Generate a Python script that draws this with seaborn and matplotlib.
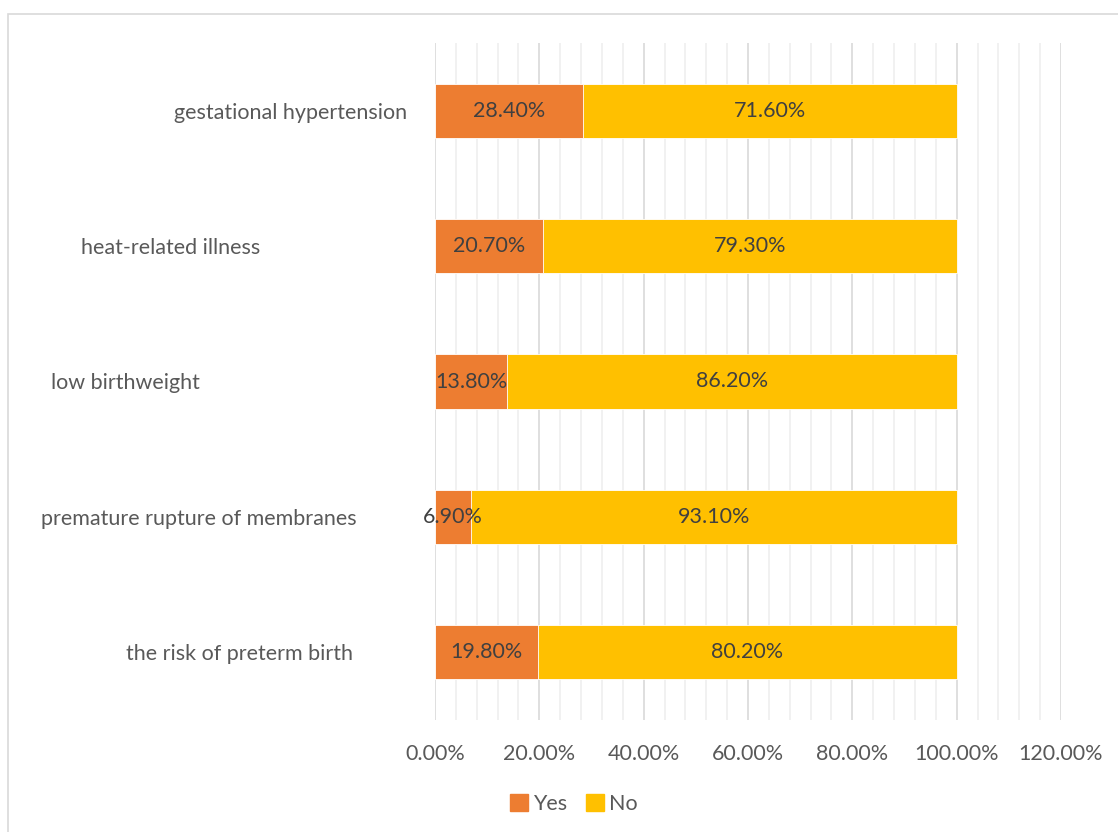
import matplotlib
matplotlib.use("Agg")
import matplotlib.pyplot as plt
import matplotlib.patches as mpatches
from matplotlib.ticker import MultipleLocator, FuncFormatter
import seaborn as sns
import pandas as pd

categories = ["gestational hypertension", "heat-related illness", "low birthweight",
              "premature rupture of membranes", "the risk of preterm birth"]
yes_vals = [28.4, 20.7, 13.8, 6.9, 19.8]
no_vals = [71.6, 79.3, 86.2, 93.1, 80.2]
series_names = ["Yes", "No"]

YES_C = "#ED7D31"
NO_C = "#FFC000"
TXT = "#595959"
LBL = "#404040"
FS = 15.5

sns.set_theme(style="white")
plt.rcParams["font.family"] = ["Lato", "DejaVu Sans"]

df = pd.DataFrame({"category": categories, "Yes": yes_vals, "No": no_vals})
df["total"] = df["Yes"] + df["No"]

fig = plt.figure(figsize=(11.18, 8.32), dpi=100)
ax = fig.add_axes([435/1118, 1-720/832, 626/1118, 677/832])

sns.barplot(data=df, x="total", y="category", color=NO_C, width=0.4, ax=ax,
            saturation=1, edgecolor="white", linewidth=0.6)
sns.barplot(data=df, x="Yes", y="category", color=YES_C, width=0.4, ax=ax,
            saturation=1, edgecolor="white", linewidth=0.6)

ax.set_xlim(0, 120)
ax.set_ylim(4.5, -0.5)
ax.xaxis.set_major_locator(MultipleLocator(20))
ax.xaxis.set_minor_locator(MultipleLocator(4))
ax.xaxis.set_major_formatter(FuncFormatter(lambda v, p: f"{v:.2f}%"))
ax.grid(axis="x", which="major", color="#D9D9D9", linewidth=1.2)
ax.grid(axis="x", which="minor", color="#EFEFEF", linewidth=1.2)
ax.set_axisbelow(True)
for s in ax.spines.values():
    s.set_visible(False)
ax.set_xlabel("")
ax.set_ylabel("")
ax.tick_params(axis="x", which="both", length=0, pad=17, labelsize=FS, labelcolor=TXT)
ax.tick_params(axis="y", length=0, labelsize=FS, labelcolor=TXT)

# per-label offsets to mimic the original label placement
pads_px = [28, 175, 235, 78, 82]
for t, p in zip(ax.yaxis.get_major_ticks(), pads_px):
    t.set_pad(p * 0.72)

yes_cont = ax.containers[1]
ax.bar_label(yes_cont, labels=[f"{v:.2f}%" for v in yes_vals], label_type="center",
             fontsize=FS, color=LBL)
for i, (y, n) in enumerate(zip(yes_vals, no_vals)):
    ax.text(y + n / 2, i, f"{n:.2f}%", ha="center", va="center", fontsize=FS, color=LBL)

handles = [mpatches.Patch(color=YES_C, label="Yes"), mpatches.Patch(color=NO_C, label="No")]
leg = fig.legend(handles=handles, loc="center", bbox_to_anchor=(574/1118, 1-804/832),
                 ncol=2, frameon=False, fontsize=FS, handlelength=0.8, handleheight=0.8,
                 handletextpad=0.25, columnspacing=0.9)
for t in leg.get_texts():
    t.set_color(TXT)

fig.patches.append(mpatches.Rectangle((8/1118, -0.1), 1.2, 1 - 14/832 + 0.1,
                                      transform=fig.transFigure, fill=False,
                                      edgecolor="#D9D9D9", linewidth=1.2))

fig.savefig("out.png", dpi=100)
